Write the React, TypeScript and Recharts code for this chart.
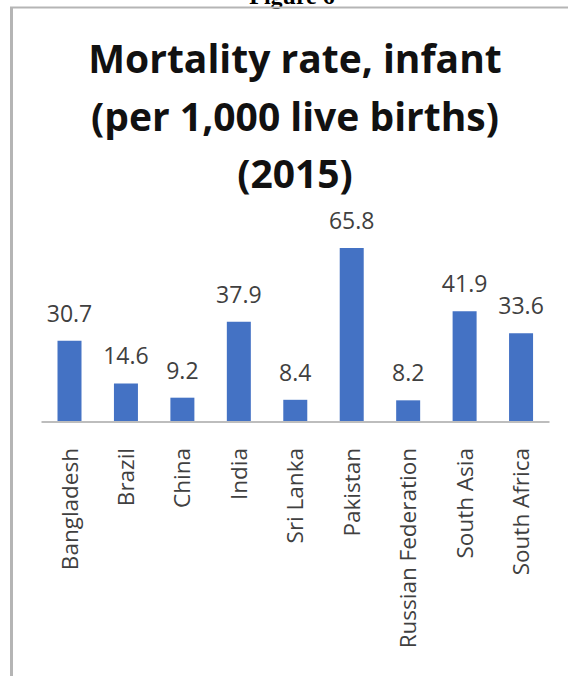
import { Bar, BarChart, LabelList, XAxis, YAxis } from "recharts";

const CATEGORIES = [
  "Bangladesh",
  "Brazil",
  "China",
  "India",
  "Sri Lanka",
  "Pakistan",
  "Russian Federation",
  "South Asia",
  "South Africa",
];
const RATES = [30.7, 14.6, 9.2, 37.9, 8.4, 65.8, 8.2, 41.9, 33.6];
const TITLE_LINES = ["Mortality rate, infant", "(per 1,000 live births)", "(2015)"];

const data = CATEGORIES.map((name, i) => ({ name, rate: RATES[i] }));

const FONT = "'Open Sans', 'Noto Sans', sans-serif";

// rotated category label, reads bottom-to-top, ends just under the axis
function CategoryTick(props: any) {
  const { x, y, payload } = props;
  const ty = y + 26;
  return (
    <text
      x={x}
      y={ty}
      transform={`rotate(-90, ${x}, ${ty})`}
      textAnchor="end"
      dy="0.35em"
      fontFamily={FONT}
      fontSize={22.5}
      fill="#404040"
    >
      {payload.value}
    </text>
  );
}

export default function App() {
  return (
    <div style={{ position: "relative", width: 568, height: 676, background: "#fff" }}>
      <style>{"body{margin:0}"}</style>
      <BarChart
        width={568}
        height={676}
        data={data}
        margin={{ top: 237, right: 18.5, bottom: 54, left: 41.5 }}
      >
        <XAxis
          dataKey="name"
          height={200}
          interval={0}
          tickLine={false}
          tickSize={0}
          tickMargin={0}
          axisLine={{ stroke: "#bdbdbd", strokeWidth: 2 }}
          tick={<CategoryTick />}
        />
        <YAxis hide domain={[0, 70]} />
        <Bar dataKey="rate" fill="#4472C4" barSize={24} isAnimationActive={false}>
          <LabelList
            dataKey="rate"
            position="top"
            offset={19}
            fontFamily={FONT}
            fontSize={23}
            fill="#404040"
          />
        </Bar>
      </BarChart>
      <svg
        width={568}
        height={676}
        style={{ position: "absolute", left: 0, top: 0, pointerEvents: "none" }}
      >
        <text
          x={292}
          y={4}
          textAnchor="middle"
          fontFamily="'Liberation Serif', serif"
          fontWeight="bold"
          fontSize={24}
          fill="#000"
        >
          Figure 6
        </text>
        <line x1={10} y1={7.5} x2={568} y2={7.5} stroke="#b5b5b5" strokeWidth={2} />
        <line x1={11.5} y1={7} x2={11.5} y2={676} stroke="#b5b5b5" strokeWidth={3} />
        {TITLE_LINES.map((t, i) => (
          <text
            key={t}
            x={295}
            y={73 + i * 57.5}
            textAnchor="middle"
            fontFamily={FONT}
            fontWeight="bold"
            fontSize={39}
            fill="#111"
          >
            {t}
          </text>
        ))}
      </svg>
    </div>
  );
}
